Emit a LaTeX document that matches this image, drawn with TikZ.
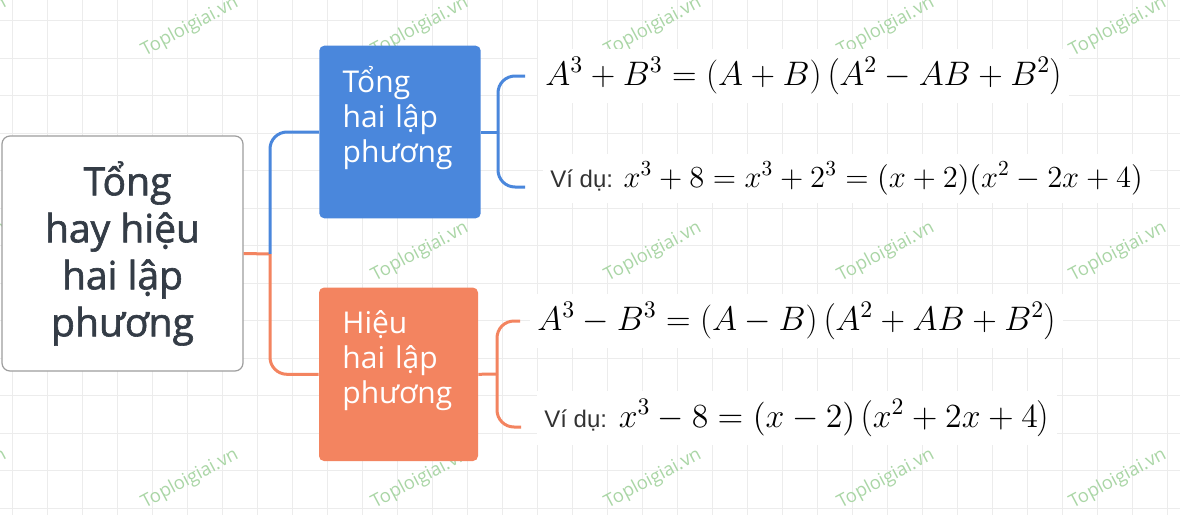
\RequirePackage{fix-cm}
\documentclass[tikz,border=0pt]{standalone}
\usepackage[no-math]{fontspec}
\setmainfont{Open Sans}
\newfontfamily\rootfont{Open Sans}[FakeBold=1.6]
\newfontfamily\vidufont{Liberation Sans}
\usetikzlibrary{calc}
\definecolor{sumblue}{RGB}{74,135,220}
\definecolor{difforange}{RGB}{243,132,96}
\definecolor{gridgray}{RGB}{236,236,236}
\definecolor{markgreen}{RGB}{170,214,166}
\definecolor{roottext}{RGB}{52,60,70}
\definecolor{vidutext}{RGB}{50,50,50}
\tikzset{
	rootbox/.style={draw=black!38, line width=0.6pt, fill=white, rounded corners=4pt, align=center, text=roottext, font=\rootfont\fontsize{19.5}{23.5}\selectfont, minimum width=120.5pt, minimum height=117.5pt},
	branchbox/.style={rounded corners=2.5pt, text=white, align=left, inner xsep=11.7pt, font=\fontsize{15}{17.5}\selectfont},
	formula/.style={fill=white, inner xsep=3.5pt, inner ysep=4pt},
	link/.style={line width=1.5pt, rounded corners=8.5pt}
}

\begin{document}
\begin{tikzpicture}[x=0.5pt,y=-0.5pt]
			%%%%% START %%%%%
			\useasboundingbox (0,0) rectangle (1180,515);
			\fill[white] (0,0) rectangle (1180,515);
			
			% grid
			\foreach \k in {0,...,33}
				\draw[gridgray, line width=0.5pt] ({12.7+35*\k},0) -- ({12.7+35*\k},515);
			\foreach \k in {0,...,13}
				\draw[gridgray, line width=0.5pt] (0,{20.8+37.5*\k}) -- (1180,{20.8+37.5*\k});
			
			% watermarks (the one under the main box is hidden)
			\foreach \px/\py in {-42/27,190/27,420/27,653/27,886/27,1118/27,
					-42/252,420/252,653/252,886/252,1118/252,
					-42/479,190/479,420/479,653/479,886/479,1118/479}
				\node[markgreen, rotate=28, font=\fontsize{9.2}{11}\selectfont] at (\px,\py) {Toploigiai.vn};
			
			\node[rootbox] (root) at (122.5,253.5) {\hspace*{0.26em}Tổng\\hay hiệu\\hai lập\\phương};
			
			\node[branchbox, fill=sumblue, text width=57.3pt, minimum height=86.3pt] (sum) at (400,132) {Tổng\\hai lập\\phương\\\mbox{}};
			\node[branchbox, fill=difforange, text width=56.1pt, minimum height=86.7pt] (diff) at (398.5,374.3) {Hiệu\\hai lập\\phương\\\mbox{}};
			
			\coordinate (fork) at (270,254);
			\draw[link, difforange] (root.east) -- (fork);
			\draw[link, sumblue] (fork) |- (sum.west);
			\draw[link, difforange] (fork) |- (diff.west);
			
			% formulas
			\node[formula, anchor=west, font=\fontsize{17}{20}\selectfont] (sumA) at (538,76) {$A^3+B^3=(A+B)\left(A^2-AB+B^2\right)$};
			\node[formula, anchor=base west, font=\fontsize{15.3}{18}\selectfont] (sumEx) at (543,187) {{\vidufont\fontsize{12}{14}\selectfont\color{vidutext}Ví dụ:} $x^3+8=x^3+2^3=(x+2)(x^2-2x+4)$};
			\node[formula, anchor=west, font=\fontsize{17}{20}\selectfont] (diffA) at (530,321) {$A^3-B^3=(A-B)\left(A^2+AB+B^2\right)$};
			\node[formula, anchor=base west, font=\fontsize{16.9}{19}\selectfont] (diffEx) at (537,427) {{\vidufont\fontsize{12}{14}\selectfont\color{vidutext}Ví dụ:} $x^3-8=(x-2)\left(x^2+2x+4\right)$};
			
			\coordinate (sumfork) at (498,132);
			\draw[link, sumblue] (sum.east) -- (sumfork);
			\draw[link, sumblue, shorten >=6.5pt] (sumfork) |- (sumA.west);
			\draw[link, sumblue, shorten >=9pt] (sumfork) |- (sumEx.base west);
			
			\coordinate (difffork) at (497,374);
			\draw[link, difforange] (diff.east) -- (difffork);
			\draw[link, difforange, shorten >=5pt] (difffork) |- (diffA.west);
			\draw[link, difforange, shorten >=8pt] (difffork) |- (diffEx.base west);
			%%%%% END %%%%%
\end{tikzpicture}
\end{document}
